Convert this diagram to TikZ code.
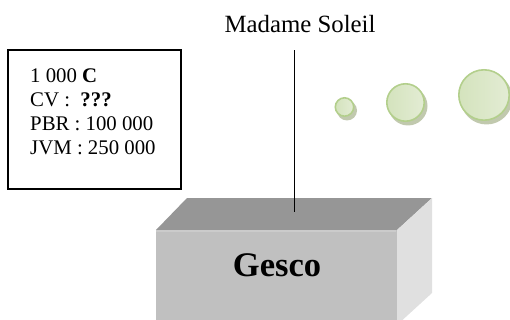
\documentclass[tikz,border=0pt]{standalone}
\usepackage{fontspec}
\setmainfont{Liberation Serif}

\definecolor{gristop}{HTML}{969696}
\definecolor{grisface}{HTML}{C0C0C0}
\definecolor{griscote}{HTML}{E0E0E0}
\definecolor{grisclair}{HTML}{CBCBCB}
\definecolor{vertbord}{HTML}{B3CF8C}
\definecolor{vertclair}{HTML}{D4E3BD}
\definecolor{vertpale}{HTML}{E3ECD4}
\definecolor{vertombre}{HTML}{A7B28C}

\begin{document}
\begin{tikzpicture}[x=1pt, y=-1pt,
  bulle/.style={circle, draw=vertbord, line width=1.6pt, left color=vertclair, right color=vertpale, inner sep=0pt},
  ombre/.style={fill=vertombre, opacity=0.7}]

% Cadre
\useasboundingbox (0,0) rectangle (510,320);
\clip (0,0) rectangle (510,320);

% Boîte d'informations
\node[draw, line width=1.5pt, minimum width=173pt, minimum height=139pt, inner sep=0pt] (cadre) at (94.5,119.5) {};
\node[anchor=north west, align=left, inner sep=0pt, font=\fontsize{20.8}{24}\selectfont] (valeurs) at (30,68)
  {1~000 \textbf{C}\\CV :~~\textbf{???}\\PBR : 100~000\\JVM : 250~000};

% Gesco en relief
\fill[gristop] (156,230) -- (187,198) -- (432,198) -- (397,230) -- cycle;
\fill[griscote] (397,230) -- (432,198) -- (432,293) -- (397,325) -- cycle;
\fill[grisface] (156,230) rectangle (397,325);
\draw[grisclair, line width=1.5pt] (156,231) -- (396,231);
\node[font=\fontsize{34.5}{40}\selectfont\bfseries] (gesco) at (277,265) {Gesco};

% Madame Soleil
\node[anchor=base, inner sep=0pt, font=\fontsize{24.8}{29}\selectfont] (soleil) at (300,33) {Madame Soleil};
\coordinate (sommet) at (294,212);
\draw[line width=1pt, shorten <=17pt] (soleil.south -| sommet) -- (sommet);

% Bulles
\foreach \cx/\cy/\r [count=\i] in {344.5/107/10, 405.5/102.5/19.5, 484/95/26} {
  \fill[ombre] (\cx+2.5,\cy+3.5) circle[radius=\r pt];
  \node[bulle, minimum size={2*\r pt-1.6pt}] (bulle\i) at (\cx,\cy) {};
}

\end{tikzpicture}
\end{document}
